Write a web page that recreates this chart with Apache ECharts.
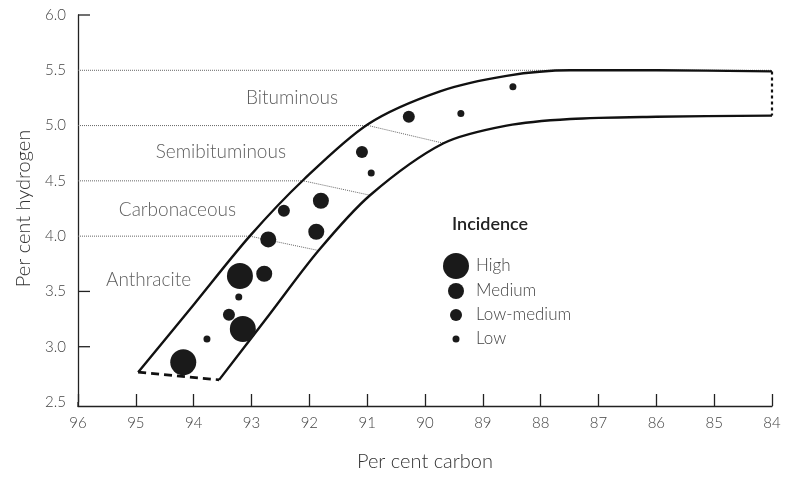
<!DOCTYPE html>
<html><head><meta charset="utf-8">
<script src="https://cdn.jsdelivr.net/npm/echarts@6/dist/echarts.min.js"></script>
<style>html,body{margin:0;padding:0;background:#fff}#c{width:786px;height:477px}</style>
</head><body><div id="c"></div>
<script>
// ---- data (x = per cent carbon, y = per cent hydrogen) ----
const highPts = [[94.18, 2.86], [93.15, 3.16], [93.20, 3.64]];
const mediumPts = [[92.78, 3.66], [92.71, 3.97], [91.88, 4.04], [91.80, 4.32]];
const lowMediumPts = [[93.39, 3.29], [92.44, 4.23], [91.09, 4.76], [90.28, 5.08]];
const lowPts = [[93.77, 3.07], [93.22, 3.45], [90.93, 4.57], [89.38, 5.11], [88.48, 5.35]];

const bandTop = [[94.96, 2.77], [94.0, 3.38], [93.03, 4.00], [92.10, 4.51], [90.98, 5.015], [89.74, 5.31], [88.59, 5.45], [87.49, 5.50], [86, 5.50], [84, 5.49]];
const bandBottom = [[93.56, 2.70], [92.7, 3.285], [91.84, 3.87], [90.95, 4.37], [89.68, 4.84], [88.59, 5.00], [87.49, 5.06], [86, 5.08], [84, 5.09]];
const bandBase = [[94.96, 2.77], [93.56, 2.70]];
const bandEnd = [[84, 5.49], [84, 5.09]];

const classLines = [
  [[96, 5.5], [84, 5.5]],
  [[96, 5.0], [90.98, 5.0], [89.68, 4.84]],
  [[96, 4.5], [92.10, 4.5], [90.95, 4.37]],
  [[96, 4.0], [93.03, 4.0], [91.84, 3.87]]
];
const classNames = ['Bituminous', 'Semibituminous', 'Carbonaceous', 'Anthracite'];
const classLabelPos = [[92.30, 5.25], [93.53, 4.76], [94.28, 4.24], [94.78, 3.60]];

const yTickMarks = [3.0, 3.5, 6.0];
const incidenceLevels = ['High', 'Medium', 'Low-medium', 'Low'];
const incidenceSizes = [26, 16, 12, 7];

// ---- chart ----
const FONT = 'Lato, "Open Sans", sans-serif';
const chart = echarts.init(document.getElementById('c'), null, {renderer: 'canvas'});

const lineSeries = (data, style, smooth) => ({
  type: 'line', data: data, smooth: smooth || false,
  symbol: 'none', silent: true, z: 3,
  lineStyle: style
});

const series = [];
series.push(lineSeries(bandTop, {color: '#111', width: 2.4}, 0.3));
series.push(lineSeries(bandBottom, {color: '#111', width: 2.4}, 0.3));
series.push(lineSeries(bandBase, {color: '#111', width: 2.6, type: [8, 5]}));
series.push(lineSeries(bandEnd, {color: '#111', width: 2.2, type: [3, 3]}));
classLines.forEach(l => series.push(Object.assign(lineSeries(l, {color: '#666', width: 1, type: [1, 1]}), {z: 2})));

series.push({
  type: 'scatter', silent: true, symbolSize: 0, z: 4,
  data: classLabelPos.map((p, i) => ({value: p, name: classNames[i]})),
  label: {show: true, position: 'inside', formatter: '{b}', fontFamily: FONT, fontWeight: 300, fontSize: 19, color: '#333'}
});

const ptsByLevel = [highPts, mediumPts, lowMediumPts, lowPts];
ptsByLevel.forEach((pts, i) => series.push({
  type: 'scatter', name: incidenceLevels[i], data: pts, symbol: 'circle',
  symbolSize: incidenceSizes[i], itemStyle: {color: '#1a1a1a', opacity: 1}, z: 5
}));

// inward y ticks (only where no dotted class line starts) + axis corner join
series.push({
  type: 'custom', silent: true, z: 6,
  data: yTickMarks.map(v => [96, v]).concat([[96, 2.5]]),
  renderItem: (params, api) => {
    const p = api.coord([api.value(0), api.value(1)]);
    if (params.dataIndex === yTickMarks.length) {
      return {type: 'line', shape: {x1: p[0], y1: p[1], x2: p[0], y2: p[1] + 4.6}, style: {stroke: '#222', lineWidth: 1.3}};
    }
    return {type: 'line', shape: {x1: p[0], y1: p[1], x2: p[0] + 12, y2: p[1]}, style: {stroke: '#222', lineWidth: 1.3}};
  }
});

// legend drawn as graphic
const legendX = 456, legendY0 = 266, legendStep = [0, 25, 24, 24];
const graphic = [{type: 'text', left: 452, top: 215, style: {text: 'Incidence', font: '600 18px ' + FONT, fill: '#222'}}];
let ly = legendY0;
incidenceLevels.forEach((lv, i) => {
  ly += legendStep[i];
  graphic.push({type: 'circle', shape: {cx: legendX, cy: ly, r: incidenceSizes[i] / 2}, style: {fill: '#1a1a1a'}});
  graphic.push({type: 'text', x: 476, y: ly, style: {text: lv, font: '300 17px ' + FONT, fill: '#444', textVerticalAlign: 'middle'}});
});

chart.setOption({
  animation: false,
  grid: {left: 78, right: 14, top: 15, bottom: 71, containLabel: false},
  xAxis: {
    type: 'value', min: 84, max: 96, interval: 1, inverse: true, offset: 4,
    name: 'Per cent carbon', nameLocation: 'middle', nameGap: 46,
    nameTextStyle: {fontFamily: FONT, fontWeight: 300, fontSize: 20, color: '#333'},
    axisLine: {lineStyle: {color: '#222', width: 1.3}},
    axisTick: {show: true, inside: true, length: 12, lineStyle: {color: '#222', width: 1.3}},
    axisLabel: {fontFamily: FONT, fontWeight: 300, fontSize: 15, color: '#444', margin: 10},
    splitLine: {show: false}
  },
  yAxis: {
    type: 'value', min: 2.5, max: 6.0, interval: 0.5,
    name: 'Per cent hydrogen', nameLocation: 'middle', nameGap: 44,
    nameTextStyle: {fontFamily: FONT, fontWeight: 300, fontSize: 20, color: '#333'},
    axisLine: {show: true, lineStyle: {color: '#222', width: 1.3}},
    axisTick: {show: false},
    axisLabel: {fontFamily: FONT, fontWeight: 300, fontSize: 15, color: '#444', margin: 12, formatter: v => v.toFixed(1)},
    splitLine: {show: false}
  },
  graphic: graphic,
  series: series
});
</script></body></html>
